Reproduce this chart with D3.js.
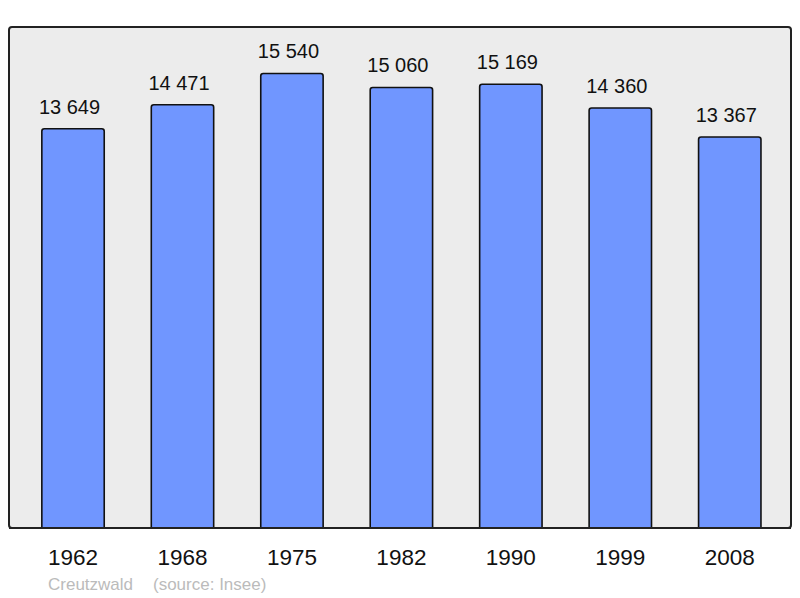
<!DOCTYPE html>
<html><head><meta charset="utf-8">
<script src="https://cdn.jsdelivr.net/npm/d3@7"></script>
<style>body{margin:0;background:#fff}svg{display:block}</style>
</head><body>
<script>
const years = ["1962","1968","1975","1982","1990","1999","2008"];
const population = [13649,14471,15540,15060,15169,14360,13367];
const labels = ["13 649","14 471","15 540","15 060","15 169","14 360","13 367"];
const caption = ["Creutzwald","(source: Insee)"];

const W=800,H=598;
const svg=d3.select("body").append("svg").attr("width",W).attr("height",H);
const panel={x:9,y:27,w:782,h:501};
svg.append("rect").attr("x",panel.x).attr("y",panel.y).attr("width",panel.w).attr("height",panel.h)
  .attr("rx",3).attr("fill","#ececec").attr("stroke","#222").attr("stroke-width",2);

const x=d3.scaleBand().domain(years).range([18.3,784.5]).paddingInner(0.43).paddingOuter(0.215);
const y=d3.scaleLinear().domain([0,d3.max(population)*1.1]).range([528,28]);

const g=svg.append("g");
g.selectAll("path.bar").data(years).enter().append("path").attr("class","bar")
  .attr("d",(d,i)=>{
    const x0=x(d),x1=x(d)+x.bandwidth(),t=y(population[i]),b=y(0),r=2.5;
    return `M${x0},${b}V${t+r}Q${x0},${t} ${x0+r},${t}H${x1-r}Q${x1},${t} ${x1},${t+r}V${b}`;
  })
  .attr("fill","#7096ff").attr("stroke","#111").attr("stroke-width",1.6);

g.selectAll("text.val").data(years).enter().append("text").attr("class","val")
  .attr("x",d=>x(d)+x.bandwidth()/2-3.5).attr("y",(d,i)=>y(population[i])-15)
  .attr("text-anchor","middle").attr("font-family","Liberation Sans, Arial, sans-serif")
  .attr("font-size",20).attr("fill","#111").text((d,i)=>labels[i]);

svg.append("line").attr("x1",panel.x).attr("x2",panel.x+panel.w).attr("y1",528).attr("y2",528)
  .attr("stroke","#222").attr("stroke-width",2);

const axis=d3.axisBottom(x).tickSize(0).tickPadding(0);
const ag=svg.append("g").attr("transform","translate(0,565)").call(axis);
ag.select(".domain").remove();
ag.selectAll("text").attr("font-family","Liberation Sans, Arial, sans-serif").attr("font-size",22.5)
  .attr("fill","#111").attr("dy","0");

svg.append("text").attr("x",48).attr("y",590).attr("font-family","Liberation Sans, Arial, sans-serif")
  .attr("font-size",17).attr("fill","#bbb").text(caption[0]);
svg.append("text").attr("x",153).attr("y",590).attr("font-family","Liberation Sans, Arial, sans-serif")
  .attr("font-size",17).attr("fill","#bbb").text(caption[1]);
</script>
</body></html>
